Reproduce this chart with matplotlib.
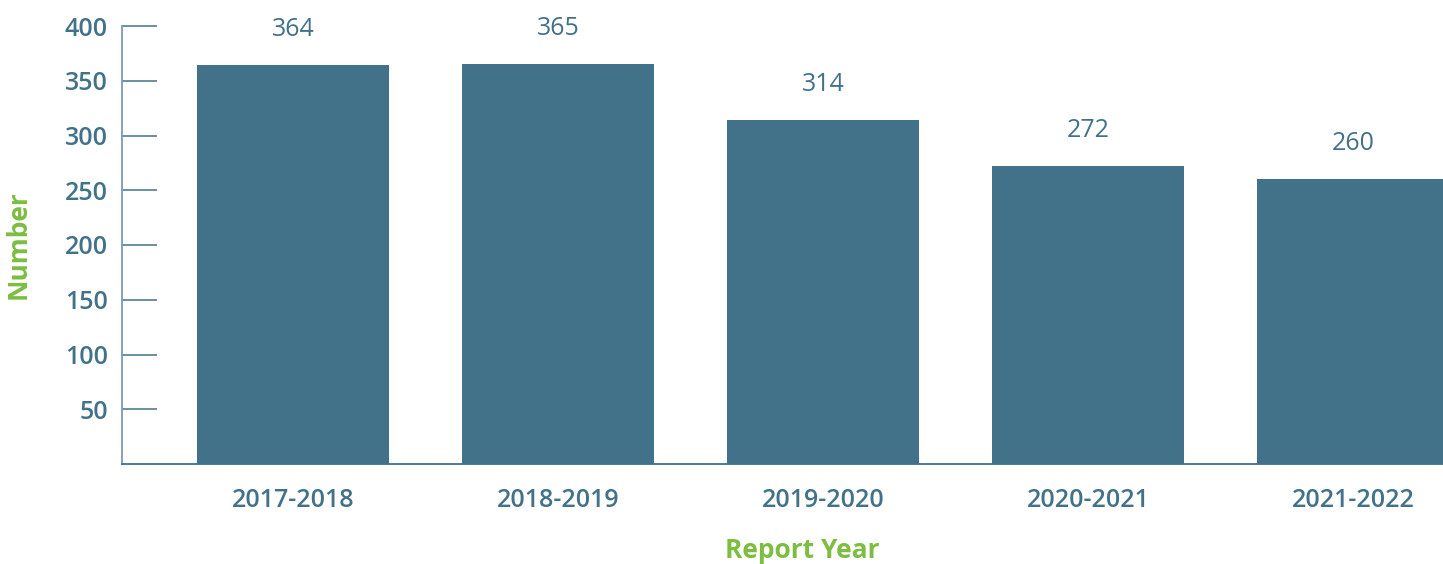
import matplotlib
matplotlib.use("Agg")
from matplotlib import pyplot as plt

years = ["2017-2018", "2018-2019", "2019-2020", "2020-2021", "2021-2022"]
counts = [364, 365, 314, 272, 260]
y_ticks = [50, 100, 150, 200, 250, 300, 350, 400]

bar_color = "#41728a"
green = "#7cbd42"

plt.rcParams["font.family"] = ["Open Sans", "DejaVu Sans"]

fig = plt.figure(figsize=(14.43, 5.64), dpi=100)
ax = fig.add_axes([122 / 1443, 100 / 564, 1321 / 1443, 438 / 564])

x = list(range(len(years)))
bars = ax.bar(x, counts, width=0.725, color=bar_color)

# value labels above bars
for b, v in zip(bars, counts):
    ax.annotate(str(v), (b.get_x() + b.get_width() / 2, b.get_height()),
                xytext=(0, 17), textcoords="offset points",
                ha="center", va="bottom", fontsize=18, color=bar_color)

ax.set_xlim(-0.645, 4.34)
ax.set_ylim(0, 400)
ax.set_xticks(x)
ax.set_xticklabels(years)
ax.set_yticks(y_ticks)

ax.tick_params(axis="y", direction="in", length=25, width=1.1,
               color=bar_color, pad=10, labelsize=18, labelcolor=bar_color)
ax.tick_params(axis="x", length=0, pad=17, labelsize=18, labelcolor=bar_color)
for lab in ax.get_xticklabels() + ax.get_yticklabels():
    lab.set_fontweight("semibold")

for s in ["top", "right"]:
    ax.spines[s].set_visible(False)
ax.spines["left"].set_color("#7d9cad")
ax.spines["left"].set_linewidth(1.3)
ax.spines["bottom"].set_color(bar_color)
ax.spines["bottom"].set_linewidth(1.3)

fig.text(18 / 1443, 1 - 245 / 564, "Number", rotation=90, ha="center",
         va="center", fontsize=19, fontweight="bold", color=green)
fig.text(802 / 1443, 1 - 551 / 564, "Report Year", ha="center", va="center",
         fontsize=19, fontweight="bold", color=green)

fig.savefig("out.png", dpi=100)
